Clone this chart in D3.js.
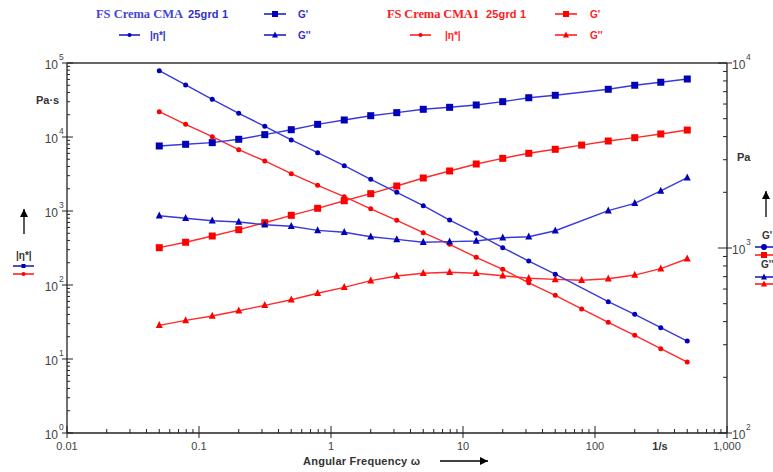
<!DOCTYPE html>
<html><head><meta charset="utf-8">
<script src="https://cdn.jsdelivr.net/npm/d3@7"></script>
<style>body{margin:0;background:#fff} svg{display:block}</style>
</head><body><svg id="c" width="773" height="472"></svg>
<script>
// ---- data ----
const freq = [0.05,0.0792,0.126,0.2,0.315,0.5,0.792,1.26,2,3.15,5,7.92,12.6,20,31.5,50,79.2,126,200,315,500];
const etaBlue = [78700,50500,32300,20900,13960,9110,6140,4090,2680,1790,1180,755,500,319,211,140,null,59.4,40.2,26.5,17.5];
const etaRed  = [21970,14850,10090,6730,4740,3190,2220,1560,1070,748,509,355,237,163,107,72.6,47.4,31.3,20.9,13.8,9.1];
const gpBlue  = [3560,3635,3710,3870,4100,4360,4660,4920,5190,5390,5620,5760,5930,6180,6490,6690,null,7210,7580,7870,8195];
const gpRed   = [1004,1074,1161,1256,1370,1502,1639,1801,1966,2163,2390,2608,2845,3053,3250,3416,3600,3788,3948,4134,4340];
const gppBlue = [1495,1448,1405,1382,1336,1310,1246,1216,1151,1114,1074,1082,1091,1136,1151,1240,null,1591,1744,2033,2399];
const gppRed  = [382,406,429,458,490,525,569,613,666,706,730,739,730,708,686,677,669,682,714,773,875];
const xTicks = [0.01,0.1,1,10,100,1000];
const xTickLabels = ["0.01","0.1","1","10","100","1,000"];
const etaExp = [0,1,2,3,4,5];
const gExp = [2,3,4];
const sampleNames = ["FS Crema CMA","FS Crema CMA1"];
const sampleTag = "25grd 1";

// ---- layout ----
const svg = d3.select("#c");
const X0=67, X1=727, Y0=433, Y1=63;
const x = d3.scaleLog().domain([0.01,1000]).range([X0,X1]);
const yE = d3.scaleLog().domain([1,1e5]).range([Y0,Y1]);
const yG = d3.scaleLog().domain([100,1e4]).range([Y0,Y1]);
const BLUE="#0000b8", BLUEL="#3a3ad8", RED="#ff0000", REDL="#ff2a2a";
const axisCol="#222", labCol="#444";
const font="'Liberation Sans', Arial, sans-serif";

const g = svg.append("g");
// frame / axes
g.append("line").attr("x1",X0).attr("x2",X1).attr("y1",Y1).attr("y2",Y1).attr("stroke","#333").attr("stroke-width",1.5);
[[X0,X0,Y1,Y0],[X1,X1,Y1,Y0],[X0,X1,Y0,Y0]].forEach(a=>
  g.append("line").attr("x1",a[0]).attr("x2",a[1]).attr("y1",a[2]).attr("y2",a[3]).attr("stroke",axisCol).attr("stroke-width",1.3));

function minors(lo,hi){const r=[];for(let e=lo;e<hi;e++)for(let k=2;k<=9;k++)r.push(k*Math.pow(10,e));return r;}
// x ticks
minors(-2,3).forEach(v=>g.append("line").attr("x1",x(v)).attr("x2",x(v)).attr("y1",Y0).attr("y2",Y0-4).attr("stroke",axisCol));
xTicks.forEach((v,i)=>{
  g.append("line").attr("x1",x(v)).attr("x2",x(v)).attr("y1",Y0+5).attr("y2",Y0-7).attr("stroke",axisCol);
  g.append("text").attr("x",x(v)).attr("y",Y0+17).attr("text-anchor","middle").attr("font-family",font).attr("font-size",11).attr("fill",labCol).text(xTickLabels[i]);
});
g.append("text").attr("x",660).attr("y",Y0+17).attr("text-anchor","middle").attr("font-family",font).attr("font-size",11).attr("font-weight","bold").attr("fill","#333").text("1/s");
// left ticks
minors(0,5).forEach(v=>g.append("line").attr("x1",X0).attr("x2",X0+3).attr("y1",yE(v)).attr("y2",yE(v)).attr("stroke",axisCol));
etaExp.forEach(e=>{
  const yy=yE(Math.pow(10,e));
  g.append("line").attr("x1",X0-5).attr("x2",X0+6).attr("y1",yy).attr("y2",yy).attr("stroke",axisCol);
  g.append("text").attr("x",58).attr("y",yy+6).attr("text-anchor","end").attr("font-family",font).attr("font-size",12).attr("fill",labCol).text("10");
  g.append("text").attr("x",59).attr("y",yy-3).attr("font-family",font).attr("font-size",8.5).attr("fill",labCol).text(e);
});
// right ticks
minors(2,4).forEach(v=>g.append("line").attr("x1",X1-4).attr("x2",X1).attr("y1",yG(v)).attr("y2",yG(v)).attr("stroke",axisCol));
gExp.forEach(e=>{
  const yy=yG(Math.pow(10,e));
  g.append("line").attr("x1",X1-9).attr("x2",X1+5).attr("y1",yy).attr("y2",yy).attr("stroke",axisCol);
  g.append("text").attr("x",732).attr("y",yy+6).attr("font-family",font).attr("font-size",12).attr("fill",labCol).text("10");
  g.append("text").attr("x",746).attr("y",yy-3).attr("font-family",font).attr("font-size",8.5).attr("fill",labCol).text(e);
});

// axis titles
const bt=(xx,yy,s,fill,size)=>g.append("text").attr("x",xx).attr("y",yy).attr("font-family",font).attr("font-size",size||11).attr("font-weight","bold").attr("fill",fill||"#333").text(s);
bt(36,104,"Pa·s");
bt(737,161,"Pa");
bt(303,465,"Angular Frequency ω").attr("textLength",117);
// arrows
function arrow(x1,y1,x2,y2){
  g.append("line").attr("x1",x1).attr("y1",y1).attr("x2",x2).attr("y2",y2).attr("stroke","#000").attr("stroke-width",1.3);
  const ang=Math.atan2(y2-y1,x2-x1), L=8, W=4;
  const p=[[x2,y2],[x2-L*Math.cos(ang)+W*Math.sin(ang),y2-L*Math.sin(ang)-W*Math.cos(ang)],[x2-L*Math.cos(ang)-W*Math.sin(ang),y2-L*Math.sin(ang)+W*Math.cos(ang)]];
  g.append("path").attr("d","M"+p.join("L")+"Z").attr("fill","#000");
}
arrow(440,461,488,461);
arrow(24,234,24,209);
arrow(766,217,766,191);

// ---- markers ----
function marker(sel,type,cx,cy,col,s){
  if(type==="sq") sel.append("rect").attr("x",cx-s/2).attr("y",cy-s/2).attr("width",s).attr("height",s).attr("fill",col);
  else if(type==="tri") sel.append("path").attr("d",`M${cx},${cy-s*0.6}L${cx+s/2},${cy+s*0.4}L${cx-s/2},${cy+s*0.4}Z`).attr("fill",col);
  else sel.append("circle").attr("cx",cx).attr("cy",cy).attr("r",s/2).attr("fill",col);
}
function series(vals,yscale,lineCol,markCol,type,size){
  const pts=freq.map((f,i)=>({f,v:vals[i]})).filter(d=>d.v!=null);
  const line=d3.line().x(d=>x(d.f)).y(d=>yscale(d.v));
  g.append("path").datum(pts).attr("d",line).attr("fill","none").attr("stroke",lineCol).attr("stroke-width",1.4);
  const mg=g.append("g");
  pts.forEach(d=>marker(mg,type,x(d.f),yscale(d.v),markCol,size));
}
series(gppRed,yG,REDL,RED,"tri",7);
series(gpRed,yG,REDL,RED,"sq",7);
series(etaRed,yE,REDL,RED,"dot",5);
series(gppBlue,yG,BLUEL,BLUE,"tri",7);
series(gpBlue,yG,BLUEL,BLUE,"sq",7);
series(etaBlue,yE,BLUEL,BLUE,"dot",5);

// ---- legends ----
const serif="'Liberation Serif','Times New Roman',serif";
function legItem(x1,x2,yy,col,type,size){
  g.append("line").attr("x1",x1).attr("x2",x2).attr("y1",yy).attr("y2",yy).attr("stroke",col).attr("stroke-width",1.4);
  marker(g,type,(x1+x2)/2,yy,col,size);
}
// blue header
g.append("text").attr("x",96).attr("y",18).attr("font-family",serif).attr("font-size",12.5).attr("font-weight","bold").attr("fill","#4646d2").attr("textLength",87).text(sampleNames[0]);
bt(188,18,sampleTag,"#3030c8",11).attr("textLength",40);
legItem(264,286,14,BLUE,"sq",6); bt(298,18,"G'","#3030c8",10);
legItem(119,140,35,BLUE,"dot",4); bt(150,39,"|η*|","#3030c8",10);
legItem(264,286,35,BLUE,"tri",6); bt(298,39,"G''","#3030c8",10);
// red header
g.append("text").attr("x",387).attr("y",18).attr("font-family",serif).attr("font-size",12.5).attr("font-weight","bold").attr("fill","#ff2020").attr("textLength",92).text(sampleNames[1]);
bt(486,18,sampleTag,"#ff2020",11).attr("textLength",40);
legItem(555,577,14,RED,"sq",6); bt(590,18,"G'","#ff2020",10);
legItem(410,431,35,RED,"dot",4); bt(445,39,"|η*|","#ff2020",10);
legItem(555,577,35,RED,"tri",6); bt(590,39,"G''","#ff2020",10);
// axis side legends
bt(16,259,"|η*|","#333",10);
legItem(13,34,266,BLUE,"sq",4);
legItem(13,34,274,RED,"dot",4);
bt(762,239,"G'","#333",10);
legItem(755,773,247,BLUE,"dot",6);
legItem(755,773,255,RED,"sq",6);
bt(761,268,"G''","#333",10);
legItem(755,773,277,BLUE,"tri",6);
legItem(755,773,284,RED,"tri",6);
</script></body></html>
